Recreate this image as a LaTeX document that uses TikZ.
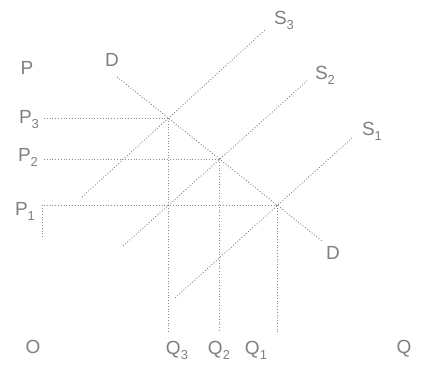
\documentclass[tikz,border=0pt]{standalone}
\usepackage{fontspec}
\setmainfont{Liberation Sans}
\usetikzlibrary{positioning}
\newcommand{\lowidx}[1]{\raisebox{-0.5ex}{\fontsize{13}{13}\selectfont #1}}

\begin{document}
\begin{tikzpicture}[x=1pt,y=-1pt,
  curve/.style={dotted,gray,line width=0.9pt},
  guide/.style={dotted,gray!90,line width=0.8pt},
  lbl/.style={text=gray,font=\fontsize{19}{20}\selectfont,inner sep=0pt}]
\useasboundingbox (0,0) rectangle (429,367);

% curves
\coordinate (dtop) at (117,77);
\coordinate (dbot) at (322,241);
\coordinate (s3a) at (82,197);
\coordinate (s3b) at (265,30);
\coordinate (s2a) at (123,246);
\coordinate (s2b) at (308,80);
\coordinate (s1a) at (175,298);
\coordinate (s1b) at (352,138);
\coordinate (e3) at (intersection of dtop--dbot and s3a--s3b);
\coordinate (e2) at (intersection of dtop--dbot and s2a--s2b);
\coordinate (e1) at (intersection of dtop--dbot and s1a--s1b);
\coordinate (base) at (0,332);
\coordinate (lft) at (44,0);

\draw[curve] (dtop) -- (dbot);
\draw[curve] (s3a) -- (s3b);
\draw[curve] (s2a) -- (s2b);
\draw[curve] (s1a) -- (s1b);

% labels
\node[lbl] (p) at (27,68) {P};
\node[lbl] (dl) at (112,60) {D};
\node[lbl] (s3) at (284,20) {S\lowidx{3}};
\node[lbl] (s2) at (325,75) {S\lowidx{2}};
\node[lbl] (s1) at (372,131) {S\lowidx{1}};
\node[lbl] (p3) at (29,120) {P\lowidx{3}};
\node[lbl] (p2) at (28,157) {P\lowidx{2}};
\node[lbl] (p1) at (25,211) {P\lowidx{1}};
\node[lbl] (dr) at (333,253) {D};
\node[lbl] (o) at (33,347) {O};
\node[lbl] (q3) at (177,350) {Q\lowidx{3}};
\node[lbl] (q2) at (219,350) {Q\lowidx{2}};
\node[lbl] (q1) at (256,350) {Q\lowidx{1}};
\node[lbl] (q) at (404,349) {Q};

% guides
\draw[guide] (lft |- e3) -- (e3);
\draw[guide] (lft |- e2) -- (e2);
\draw[guide] (lft |- e1) -- (e1);
\draw[guide] ([xshift=-2pt]lft |- e1) -- ++(0,32);
\draw[guide] (e3) -- (e3 |- base);
\draw[guide] (e2) -- (e2 |- base);
\draw[guide] (e1) -- (e1 |- base);
\end{tikzpicture}
\end{document}
